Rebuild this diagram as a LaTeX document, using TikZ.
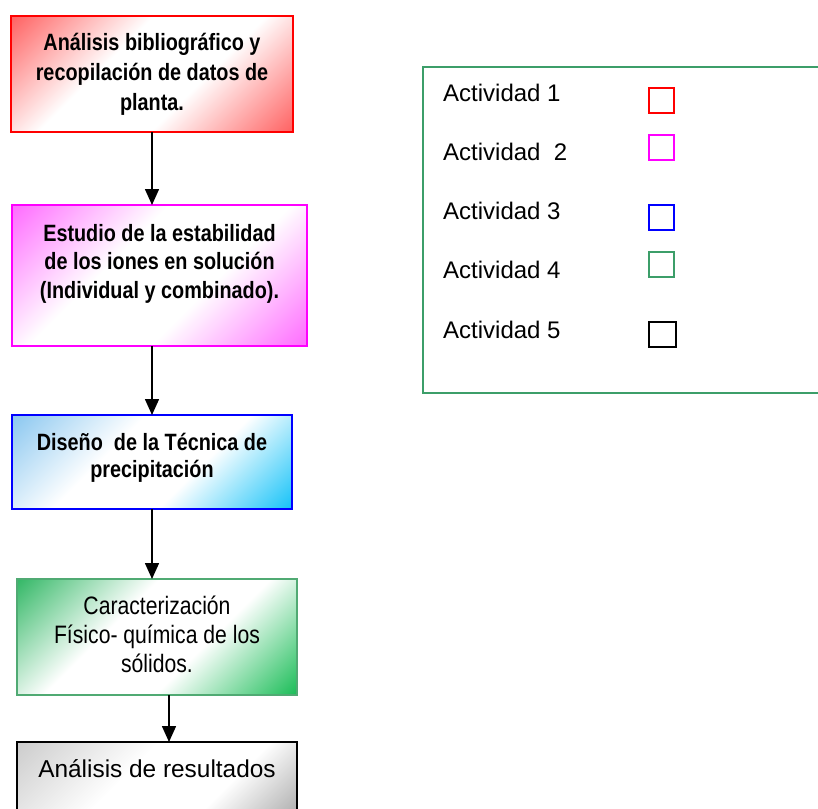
\documentclass[tikz,border=0pt]{standalone}
\usepackage{fontspec}
\setmainfont{Liberation Sans}
\newfontfamily\narrowsans[FakeStretch=0.84]{Liberation Sans}
\usetikzlibrary{arrows.meta,calc}

% frame colours
\definecolor{cRed}{RGB}{255,0,0}
\definecolor{cMag}{RGB}{255,0,255}
\definecolor{cBlue}{RGB}{0,0,255}
\definecolor{cGreenLine}{RGB}{80,170,115}
\definecolor{cLegend}{RGB}{60,158,105}
% fill colours
\definecolor{fRed}{RGB}{255,100,100}
\definecolor{fMag}{RGB}{255,110,255}
\definecolor{fBlueA}{RGB}{140,200,240}
\definecolor{fBlueB}{RGB}{25,195,248}
\definecolor{fGreenA}{RGB}{55,185,105}
\definecolor{fGreenB}{RGB}{30,190,90}
\definecolor{fGrayA}{RGB}{205,205,205}
\definecolor{fGrayB}{RGB}{140,140,140}

% diagonal bands: coloured corners, white across the middle
\pgfdeclarehorizontalshading{bandred}{100bp}{color(0bp)=(fRed); color(15bp)=(fRed); color(40bp)=(white); color(60bp)=(white); color(85bp)=(fRed); color(100bp)=(fRed)}
\pgfdeclarehorizontalshading{bandmag}{100bp}{color(0bp)=(fMag); color(15bp)=(fMag); color(40bp)=(white); color(60bp)=(white); color(85bp)=(fMag); color(100bp)=(fMag)}
\pgfdeclarehorizontalshading{bandblue}{100bp}{color(0bp)=(fBlueA); color(15bp)=(fBlueA); color(40bp)=(white); color(60bp)=(white); color(85bp)=(fBlueB); color(100bp)=(fBlueB)}
\pgfdeclarehorizontalshading{bandgreen}{100bp}{color(0bp)=(fGreenA); color(15bp)=(fGreenA); color(40bp)=(white); color(60bp)=(white); color(85bp)=(fGreenB); color(100bp)=(fGreenB)}
\pgfdeclarehorizontalshading{bandgray}{100bp}{color(0bp)=(fGrayA); color(15bp)=(fGrayA); color(40bp)=(white); color(60bp)=(white); color(85bp)=(fGrayB); color(100bp)=(fGrayB)}

\tikzset{
  flowbox/.style={rectangle, inner sep=0pt, outer sep=0pt, line width=1.6pt,
    anchor=north west, shading angle=-45},
  boldtxt/.style={align=center, anchor=base, inner sep=0pt,
    font=\narrowsans\bfseries\fontsize{23.6pt}{#1}\selectfont},
  narrowtxt/.style={align=center, anchor=base, inner sep=0pt,
    font=\narrowsans\fontsize{25.2pt}{#1}\selectfont},
  plaintxt/.style={align=center, anchor=base, inner sep=0pt,
    font=\fontsize{#1}{29pt}\selectfont},
  flowarrow/.style={line width=1.6pt, -{Triangle[width=14pt,length=16pt]}},
  legendtxt/.style={anchor=base west, inner sep=0pt, font=\fontsize{24pt}{28pt}\selectfont},
  legendsq/.style={rectangle, inner sep=0pt, outer sep=0pt, line width=1.5pt,
    anchor=north west, minimum width=25pt, minimum height=25pt},
}

\begin{document}
\begin{tikzpicture}[x=1pt, y=-1pt]
\useasboundingbox (0,0) rectangle (818,808);
\clip (0,0) rectangle (818,808);

% flow chart boxes
\node[flowbox, draw=cRed, shading=bandred, minimum width=282pt, minimum height=116pt] (b1) at (11,16) {};
\node[flowbox, draw=cMag, shading=bandmag, minimum width=295pt, minimum height=141pt] (b2) at (12,205) {};
\node[flowbox, draw=cBlue, shading=bandblue, minimum width=280pt, minimum height=94pt] (b3) at (12,415) {};
\node[flowbox, draw=cGreenLine, shading=bandgreen, minimum width=280pt, minimum height=116pt] (b4) at (17,579) {};
\node[flowbox, draw=black, shading=bandgray, minimum width=280pt, minimum height=116pt] (b5) at (17,742) {};

% box texts
\node[boldtxt=30pt] (t1) at (152,110) {Análisis bibliográfico y\\recopilación de datos de\\planta.};
\node[boldtxt=28.2pt] (t2) at (159.5,298) {Estudio de la estabilidad\\de los iones en solución\\(Individual y combinado).};
\node[boldtxt=27pt] (t3) at (152,477) {Diseño~ de la Técnica de\\precipitación};
\node[narrowtxt=29pt] (t4) at (157,672) {Caracterización\\Físico- química de los\\sólidos.};
\node[plaintxt=24.4pt] (t5) at (157,777) {Análisis de resultados};

% connectors
\draw[flowarrow] (b1.south) -- (b1.south |- b2.north);
\draw[flowarrow] (b3.north |- b2.south) -- (b3.north);
\draw[flowarrow] (b3.south) -- (b3.south |- b4.north);
\coordinate (a4) at ($(b4.south)+(12,0)$);
\draw[flowarrow] (a4) -- (a4 |- b5.north);

% legend
\node[rectangle, draw=cLegend, line width=1.5pt, inner sep=0pt, anchor=north west,
  minimum width=430pt, minimum height=326pt] (lg) at (422,66) {};
\node[legendtxt] (l1) at (443,101) {Actividad 1};
\node[legendtxt] (l2) at (443,160) {Actividad~ 2};
\node[legendtxt] (l3) at (443,219) {Actividad 3};
\node[legendtxt] (l4) at (443,278) {Actividad 4};
\node[legendtxt] (l5) at (443,338) {Actividad 5};
\node[legendsq, draw=cRed] (s1) at (649,88) {};
\node[legendsq, draw=cMag] (s2) at (649,135) {};
\node[legendsq, draw=cBlue] (s3) at (649,205) {};
\node[legendsq, draw=cLegend] (s4) at (649,252) {};
\node[legendsq, draw=black, minimum width=27pt] (s5) at (649,322) {};
\end{tikzpicture}
\end{document}
